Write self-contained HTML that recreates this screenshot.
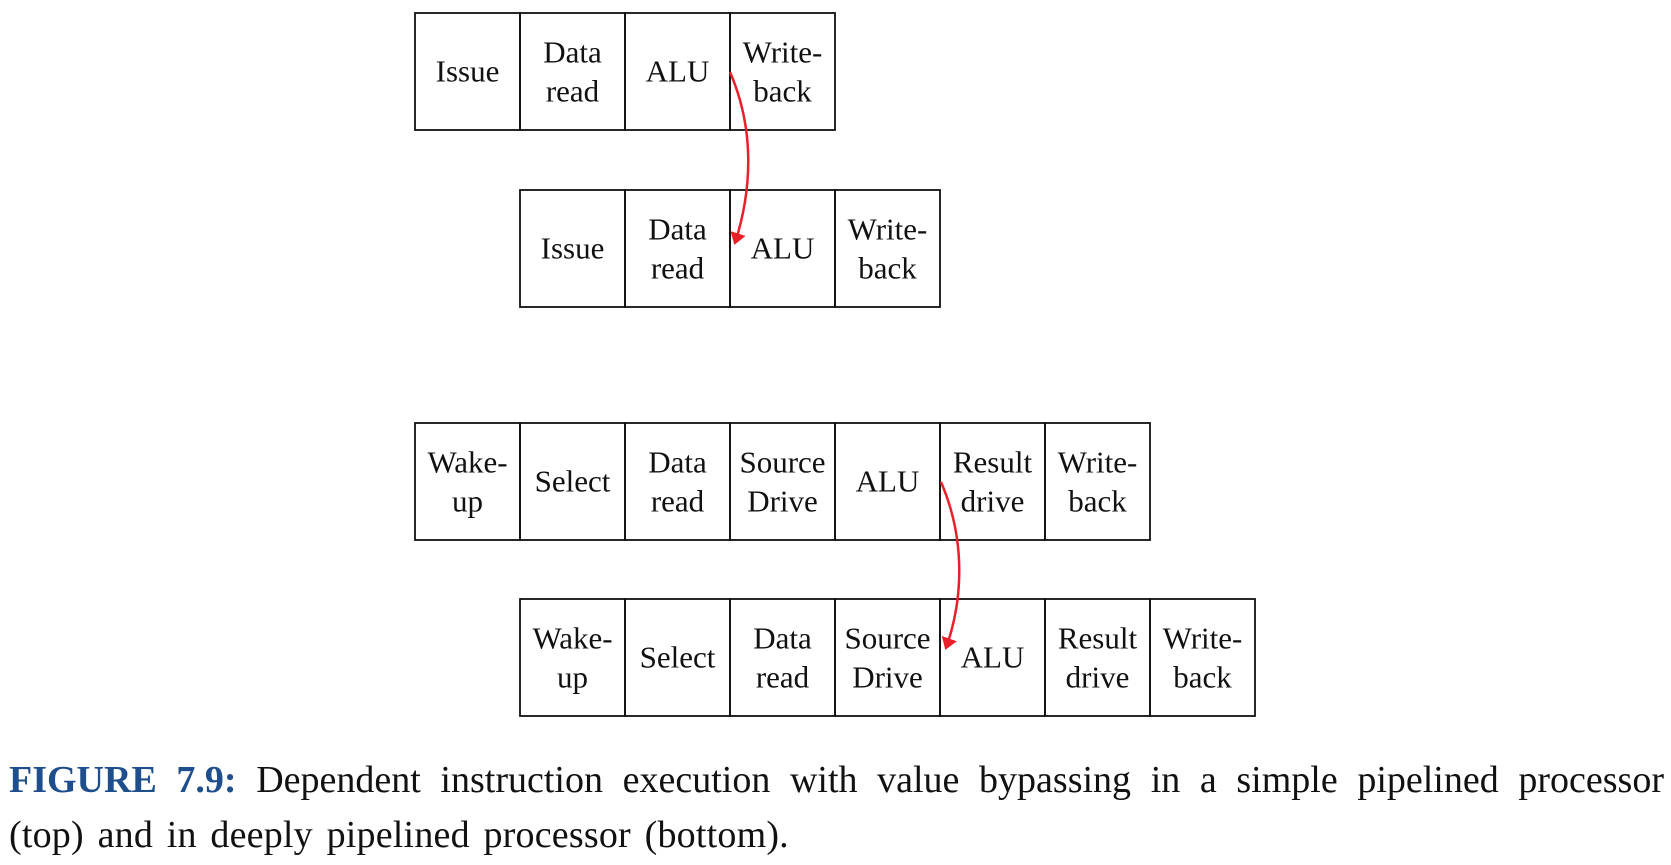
<!DOCTYPE html>
<html><head><meta charset="utf-8"><style>
body{margin:0;background:#fff;width:1671px;height:865px;overflow:hidden;position:relative;font-family:"Liberation Serif",serif}
.cap{position:absolute;left:9px;width:1655px;font-size:38px;line-height:55px;color:#111;white-space:nowrap}
.l1{top:753px;text-align:justify;text-align-last:justify}
.l2{top:808px;word-spacing:4px;letter-spacing:0.2px}
.cap b{color:#1f4e8c}
</style></head><body>
<svg width="1671" height="760" style="position:absolute;left:0;top:0">
<defs><marker id="ah" markerWidth="12" markerHeight="16" refX="10" refY="8" orient="auto" markerUnits="userSpaceOnUse"><path d="M0,0 L12,8 L0,16 z" fill="#e8202a"/></marker></defs>
<g id="rows" font-family="Liberation Serif, serif" font-size="31" fill="#111"></g>
<path d="M730,72 C755,130 752,190 735,243" stroke="#e8202a" stroke-width="2.5" fill="none" marker-end="url(#ah)"/>
<path d="M941,482 C966,540 963,600 946,648" stroke="#e8202a" stroke-width="2.5" fill="none" marker-end="url(#ah)"/>
</svg>
<div class="cap l1"><b>FIGURE 7.9:</b> Dependent instruction execution with value bypassing in a simple pipelined processor</div>
<div class="cap l2">(top) and in deeply pipelined processor (bottom).</div>
<script>
const rows=[
 {x:415,y:13,cells:[["Issue"],["Data","read"],["ALU"],["Write-","back"]]},
 {x:520,y:190,cells:[["Issue"],["Data","read"],["ALU"],["Write-","back"]]},
 {x:415,y:423,cells:[["Wake-","up"],["Select"],["Data","read"],["Source","Drive"],["ALU"],["Result","drive"],["Write-","back"]]},
 {x:520,y:599,cells:[["Wake-","up"],["Select"],["Data","read"],["Source","Drive"],["ALU"],["Result","drive"],["Write-","back"]]}
];
const W=105,H=117,NS="http://www.w3.org/2000/svg",g=document.getElementById('rows');
rows.forEach((r,ri)=>{
 r.cells.forEach((c,ci)=>{
  const x=r.x+ci*W;
  const rect=document.createElementNS(NS,'rect');
  rect.setAttribute('x',x);rect.setAttribute('y',r.y);rect.setAttribute('width',W);rect.setAttribute('height',H);
  rect.setAttribute('fill','none');rect.setAttribute('stroke','#111');rect.setAttribute('stroke-width','1.8');
  
  
  g.appendChild(rect);
  const t=document.createElementNS(NS,'text');
  t.setAttribute('text-anchor','middle');
  
  
  c.forEach((line,li)=>{
   const ts=document.createElementNS(NS,'tspan');
   ts.setAttribute('x',x+W/2);
   const cy=r.y+H/2+10+(c.length==1?0:(li==0?-19:20));
   ts.setAttribute('y',cy);ts.textContent=line;t.appendChild(ts);
  });
  g.appendChild(t);
 });
});
</script>
</body></html>
